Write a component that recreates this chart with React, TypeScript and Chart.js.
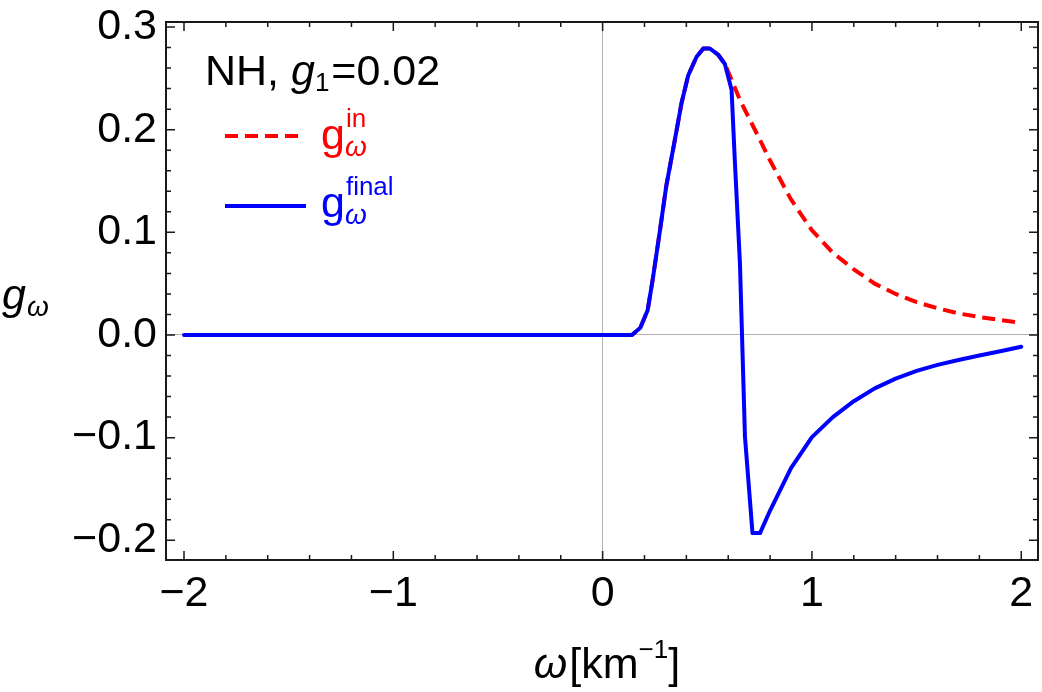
import React, { useEffect, useRef } from "react";
import { Chart, registerables } from "chart.js";

Chart.register(...registerables);

const FONT = '"Liberation Sans", Arial, Helvetica, sans-serif';
const GRID_GRAY = "#b4b4b4";
const RED = "#ff0000";
const BLUE = "#0000ff";

// ---- data ----
const omegaFinal = [
  -2, 0.14, 0.18, 0.215, 0.24, 0.274, 0.304, 0.345, 0.377, 0.409, 0.449, 0.481,
  0.513, 0.552, 0.584, 0.616, 0.632, 0.656, 0.68, 0.716, 0.752, 0.8, 0.9, 1.0,
  1.1, 1.2, 1.3, 1.4, 1.5, 1.6, 1.7, 1.8, 1.9, 2.0,
];
const gFinal = [
  0, 0, 0.007, 0.024, 0.055, 0.102, 0.145, 0.19, 0.226, 0.253, 0.271, 0.279,
  0.279, 0.273, 0.264, 0.239, 0.168, 0.07, -0.099, -0.193, -0.193, -0.171,
  -0.1297, -0.0995, -0.08, -0.0645, -0.052, -0.0425, -0.035, -0.0291, -0.0243,
  -0.02, -0.0158, -0.0114,
];
const omegaIn = [
  -2, 0.14, 0.18, 0.215, 0.24, 0.274, 0.304, 0.345, 0.377, 0.409, 0.449, 0.481,
  0.513, 0.552, 0.584, 0.6, 0.656, 0.7, 0.736, 0.8, 0.9, 1.0, 1.1, 1.2, 1.3,
  1.4, 1.5, 1.6, 1.7, 1.8, 1.9, 2.0,
];
const gIn = [
  0, 0, 0.007, 0.024, 0.055, 0.102, 0.145, 0.19, 0.226, 0.253, 0.271, 0.279,
  0.279, 0.273, 0.264, 0.2565, 0.229, 0.211, 0.1965, 0.17, 0.132, 0.102, 0.08,
  0.064, 0.05, 0.04, 0.032, 0.026, 0.021, 0.0175, 0.0145, 0.012,
];

const xTickValues = [-2, -1, 0, 1, 2];
const yTickValues = [-0.2, -0.1, 0, 0.1, 0.2, 0.3];
const X_MIN = -2.086;
const X_MAX = 2.08;
const Y_MIN = -0.2192;
const Y_MAX = 0.3049;

const fmtNum = (v: number, digits: number) =>
  (v < 0 ? "\u2212" : "") + Math.abs(v).toFixed(digits);

type Part = { text: string; size: number; italic?: boolean; dy?: number; dx?: number };

function drawRich(ctx: CanvasRenderingContext2D, parts: Part[], x: number, baseline: number, color: string) {
  ctx.fillStyle = color;
  ctx.textBaseline = "alphabetic";
  ctx.textAlign = "left";
  let cx = x;
  for (const p of parts) {
    ctx.font = `${p.italic ? "italic " : ""}${p.size}px ${FONT}`;
    cx += p.dx || 0;
    ctx.fillText(p.text, cx, baseline + (p.dy || 0));
    cx += ctx.measureText(p.text).width;
  }
  return cx;
}

function richWidth(ctx: CanvasRenderingContext2D, parts: Part[]) {
  let w = 0;
  for (const p of parts) {
    ctx.font = `${p.italic ? "italic " : ""}${p.size}px ${FONT}`;
    w += ctx.measureText(p.text).width + (p.dx || 0);
  }
  return w;
}

const framePlugin = {
  id: "framePlugin",
  afterDraw(chart: any) {
    const { ctx, chartArea: a, scales } = chart;
    const xs = scales.x;
    const ys = scales.y;
    ctx.save();
    ctx.strokeStyle = "#1a1a1a";
    ctx.lineWidth = 1.5;
    ctx.beginPath();
    for (let i = -10; i <= 10; i++) {
      const v = i * 0.2;
      const len = i % 5 === 0 ? 9 : 5;
      const px = xs.getPixelForValue(v);
      ctx.moveTo(px, a.bottom);
      ctx.lineTo(px, a.bottom - len);
      ctx.moveTo(px, a.top);
      ctx.lineTo(px, a.top + len);
    }
    for (let i = -10; i <= 15; i++) {
      const v = i * 0.02;
      const len = i % 5 === 0 ? 9 : 5;
      const py = ys.getPixelForValue(v);
      ctx.moveTo(a.left, py);
      ctx.lineTo(a.left + len, py);
      ctx.moveTo(a.right, py);
      ctx.lineTo(a.right - len, py);
    }
    ctx.stroke();
    ctx.lineWidth = 2;
    ctx.strokeRect(a.left, a.top, a.right - a.left, a.bottom - a.top);

    // panel label
    drawRich(
      ctx,
      [
        { text: "NH, ", size: 43 },
        { text: "g", size: 43, italic: true },
        { text: "1", size: 26, dy: 6 },
        { text: "=0.02", size: 43, dx: 2 },
      ],
      205,
      85,
      "#000"
    );

    // legend
    ctx.lineCap = "butt";
    ctx.lineWidth = 4;
    ctx.strokeStyle = RED;
    ctx.setLineDash([13, 7]);
    ctx.beginPath();
    ctx.moveTo(225, 136);
    ctx.lineTo(305, 136);
    ctx.stroke();
    ctx.setLineDash([]);
    ctx.strokeStyle = BLUE;
    ctx.beginPath();
    ctx.moveTo(225, 206);
    ctx.lineTo(306, 206);
    ctx.stroke();

    const legendEntry = (sup: string, baseline: number, color: string) => {
      ctx.fillStyle = color;
      ctx.font = `43px ${FONT}`;
      ctx.textBaseline = "alphabetic";
      ctx.textAlign = "left";
      ctx.fillText("g", 321, baseline);
      const gw = ctx.measureText("g").width;
      ctx.font = `italic 28px ${FONT}`;
      ctx.fillText("\u03c9", 321 + gw, baseline + 7);
      ctx.font = `26px ${FONT}`;
      ctx.fillText(sup, 321 + gw + 1, baseline - 22);
    };
    legendEntry("in", 149, RED);
    legendEntry("final", 217, BLUE);

    // x axis title
    const xParts: Part[] = [
      { text: "\u03c9", size: 43, italic: true },
      { text: "[km", size: 43, dx: 2 },
      { text: "\u22121", size: 26, dy: -20 },
      { text: "]", size: 43 },
    ];
    const w = richWidth(ctx, xParts);
    drawRich(ctx, xParts, 607 - w / 2, 678, "#000");

    // y axis title
    drawRich(
      ctx,
      [
        { text: "g", size: 43, italic: true },
        { text: "\u03c9", size: 28, italic: true, dy: 7, dx: 1 },
      ],
      2,
      309,
      "#000"
    );
    ctx.restore();
  },
};

export default function App() {
  const canvasRef = useRef<HTMLCanvasElement | null>(null);

  useEffect(() => {
    document.body.style.margin = "0";
    const canvas = canvasRef.current;
    if (!canvas) return;

    const finalData = omegaFinal.map((x, i) => ({ x, y: gFinal[i] }));
    const inData = omegaIn.map((x, i) => ({ x, y: gIn[i] }));

    const chart = new Chart(canvas, {
      type: "line",
      data: {
        datasets: [
          {
            label: "g final",
            data: finalData,
            borderColor: BLUE,
            borderWidth: 4,
            borderJoinStyle: "round",
            borderCapStyle: "round",
            pointRadius: 0,
            tension: 0,
            fill: false,
          },
          {
            label: "g in",
            data: inData,
            borderColor: RED,
            borderWidth: 4,
            borderDash: [13, 7],
            borderCapStyle: "butt",
            pointRadius: 0,
            tension: 0,
            fill: false,
          },
        ],
      },
      options: {
        responsive: false,
        animation: false,
        devicePixelRatio: 1,
        layout: { padding: { left: 0, right: 4, top: 22, bottom: 0 } },
        plugins: {
          legend: { display: false },
          tooltip: { enabled: false },
        },
        scales: {
          x: {
            type: "linear",
            min: X_MIN,
            max: X_MAX,
            afterBuildTicks: (s: any) => {
              s.ticks = xTickValues.map((v) => ({ value: v }));
            },
            afterFit: (s: any) => {
              s.height = 132;
              s.paddingLeft = 0;
              s.paddingRight = 0;
            },
            border: { display: false },
            grid: {
              drawTicks: false,
              lineWidth: 1,
              color: (c: any) =>
                c.tick && c.tick.value === 0 ? GRID_GRAY : "rgba(0,0,0,0)",
            },
            ticks: {
              padding: 8,
              color: "#000",
              maxRotation: 0,
              autoSkip: false,
              font: { family: FONT, size: 43 },
              callback: (v: any) => fmtNum(Number(v), 0),
            },
          },
          y: {
            type: "linear",
            min: Y_MIN,
            max: Y_MAX,
            afterBuildTicks: (s: any) => {
              s.ticks = yTickValues.map((v) => ({ value: v }));
            },
            afterFit: (s: any) => {
              s.width = 166;
              s.paddingTop = 0;
              s.paddingBottom = 0;
            },
            border: { display: false },
            grid: {
              drawTicks: false,
              lineWidth: 1,
              color: (c: any) =>
                c.tick && Math.abs(c.tick.value) < 1e-9 ? GRID_GRAY : "rgba(0,0,0,0)",
            },
            ticks: {
              padding: 9,
              color: "#000",
              autoSkip: false,
              font: { family: FONT, size: 43 },
              callback: (v: any) => fmtNum(Number(v), 1),
            },
          },
        },
      },
      plugins: [framePlugin],
    });

    return () => {
      chart.destroy();
    };
  }, []);

  return (
    <div style={{ position: "absolute", left: 0, top: 0, width: 1042, height: 692, background: "#fff" }}>
      <canvas ref={canvasRef} width={1042} height={692} style={{ display: "block" }} />
    </div>
  );
}
